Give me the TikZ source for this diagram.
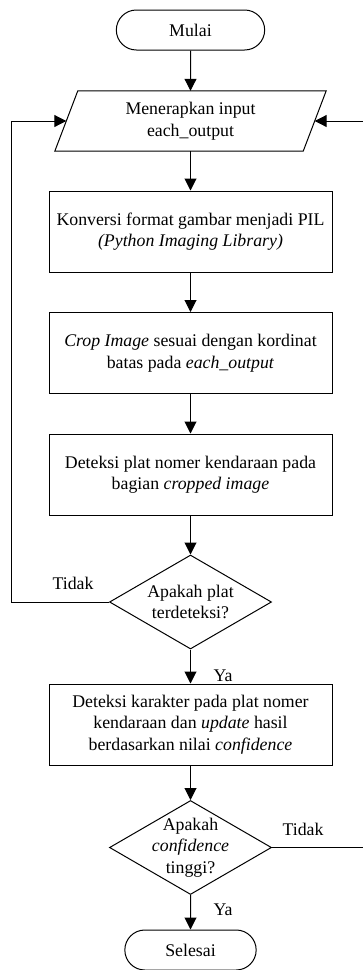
\documentclass[tikz,border=0pt]{standalone}
\usepackage{fontspec}
\setmainfont{Liberation Serif}
\usetikzlibrary{arrows.meta,shapes.misc,shapes.geometric}
\begin{document}
\begin{tikzpicture}[x=1pt,y=-1pt,
  every node/.style={font=\fontsize{17.8}{21.5}\selectfont},
  term/.style={draw, rounded rectangle, line width=1pt, minimum height=40},
  proc/.style={draw, rectangle, line width=1pt, minimum width=283, minimum height=81, align=center},
  dec/.style={draw, diamond, line width=1pt, minimum width=162, minimum height=94, inner sep=0pt},
  lbl/.style={align=center, inner sep=0pt},
  conn/.style={line width=1pt, -{Triangle[length=12pt,width=12pt]}},
  wire/.style={line width=1pt}
]
\useasboundingbox (0,0) rectangle (363,970);

\node[term, minimum width=155] (start) at (190.5,30) {Mulai};

\node[minimum width=248, minimum height=60, align=center, inner sep=0pt] (inp) at (190.5,121) {Menerapkan input\\each\_output};
\draw[wire] ([xshift=11.5pt]inp.north west) -- ([xshift=11.5pt]inp.north east)
  -- ([xshift=-11.5pt]inp.south east) -- ([xshift=-11.5pt]inp.south west) -- cycle;

\node[proc] (b1) at (190.5,231.5) {Konversi format gambar menjadi PIL\\\textit{(Python Imaging Library)}};
\node[proc] (b2) at (190.5,353) {\textit{Crop Image} sesuai dengan kordinat\\batas pada \textit{each\_output}};
\node[proc] (b3) at (190.5,474.5) {Deteksi plat nomer kendaraan pada\\bagian \textit{cropped image}};

\node[dec] (d1) at (190.5,602) {};
\node[lbl] (d1t) at (190.5,602) {Apakah plat\\terdeteksi?};

\node[proc] (b4) at (190.5,724.5) {Deteksi karakter pada plat nomer\\kendaraan dan \textit{update} hasil\\berdasarkan nilai \textit{confidence}};

\node[dec] (d2) at (190.5,847.5) {};
\node[lbl] (d2t) at (190.5,847.5) {Apakah\\\textit{confidence}\\tinggi?};

\node[term, minimum width=138] (end) at (190.5,950) {Selesai};

\coordinate (lk1) at (11,602);
\coordinate (rk1) at (366,847.5);

\draw[conn] (start) -- (inp);
\draw[conn] (inp) -- (b1);
\draw[conn] (b1) -- (b2);
\draw[conn] (b2) -- (b3);
\draw[conn] (b3) -- (d1);
\draw[conn] (d1) -- (b4);
\draw[conn] (b4) -- (d2);
\draw[conn] (d2) -- (end);
\draw[conn] (d1.west) -- (lk1) |- (inp.west);
\draw[conn] (d2.east) -- (rk1) |- (inp.east);

\node (tidak1) at (73,583) {Tidak};
\node (ya1) at (223,676) {Ya};
\node (tidak2) at (303,829) {Tidak};
\node (ya2) at (223,910) {Ya};
\end{tikzpicture}
\end{document}
